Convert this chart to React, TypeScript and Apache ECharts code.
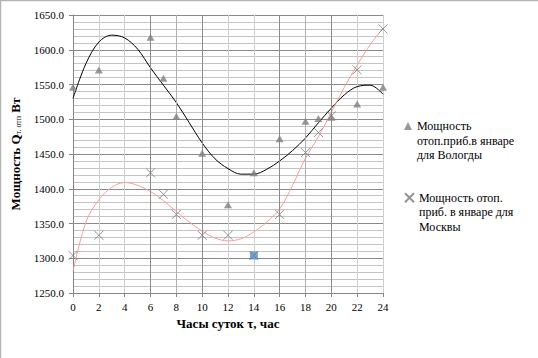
import React, { useEffect, useRef } from "react";
import * as echarts from "echarts";

// Hours of day
const vologdaX = [0, 2, 6, 7, 8, 10, 12, 14, 16, 18, 19, 20, 22, 24];
const vologdaY = [1546, 1571, 1618, 1559, 1504, 1451, 1377, 1423, 1472, 1497, 1501, 1503, 1522, 1546];

const moscowX = [0, 2, 6, 7, 8, 10, 12, 14, 16, 18, 19, 20, 22, 24];
const moscowY = [1304, 1333, 1423, 1392, 1363, 1333, 1333, 1304, 1363, 1452, 1481, 1505, 1571, 1630];

// Trendlines (hour -> value)
const trendX = [0, 1, 2, 3, 4, 5, 6, 7, 8, 9, 10, 11, 12, 13, 14, 15, 16, 17, 18, 19, 20, 21, 22, 23, 24];
const vologdaTrend = [1530, 1580, 1611, 1621, 1617, 1601, 1574, 1549, 1524, 1495, 1466, 1443, 1429, 1421, 1421, 1428, 1440, 1455, 1473, 1495, 1516, 1535, 1547, 1549, 1536];
const moscowTrend = [1281, 1352, 1384, 1402, 1409, 1405, 1396, 1383, 1367, 1352, 1339, 1329, 1325, 1328, 1338, 1352, 1371, 1405, 1444, 1475, 1510, 1546, 1578, 1607, 1631];

const highlightHour = 14;

const xTicks = [0, 2, 4, 6, 8, 10, 12, 14, 16, 18, 20, 22, 24];
const yTicks = [1250, 1300, 1350, 1400, 1450, 1500, 1550, 1600, 1650];

const vologdaName = "Мощность отоп.приб.в январе для Вологды";
const moscowName = "Мощность отоп. приб. в январе для Москвы";
const vologdaLegend = ["Мощность", "отоп.приб.в январе", "для Вологды"];
const moscowLegend = ["Мощность отоп.", "приб. в январе для", "Москвы"];

const SERIF = "Liberation Serif";

export default function App() {
  const ref = useRef<HTMLDivElement>(null);
  useEffect(() => {
    if (!ref.current) return;
    const chart = echarts.init(ref.current, undefined, { renderer: "svg" });
    const pairs = (xs: number[], ys: number[]) => xs.map((x, i) => [x, ys[i]]);
    const hiIdx = moscowX.indexOf(highlightHour);
    const lh = 14.6;
    const legendText = {
      fontFamily: SERIF,
      fontSize: 12,
      color: "#000",
      lineHeight: lh,
    };
    // two empty leading lines so that the first text line sits level with the icon
    const legendLabel = (lines: string[]) => "\n\n" + lines.join("\n");
    const option: any = {
      animation: false,
      backgroundColor: "#ffffff",
      textStyle: { fontFamily: SERIF },
      grid: { left: 73, right: 155, top: 15, bottom: 65, containLabel: false },
      xAxis: {
        type: "value",
        min: xTicks[0],
        max: xTicks[xTicks.length - 1],
        interval: 2,
        name: "Часы суток τ, час",
        nameLocation: "middle",
        nameGap: 24,
        nameTextStyle: { fontFamily: SERIF, fontSize: 13, fontWeight: "bold", color: "#000" },
        axisLine: { show: true, lineStyle: { color: "#868686", width: 1 } },
        axisTick: { show: true, length: 4, lineStyle: { color: "#868686" } },
        axisLabel: { fontFamily: SERIF, fontSize: 11, color: "#000", margin: 8 },
        splitLine: { show: true, lineStyle: { color: "#cfcfcf", width: 1 } },
      },
      yAxis: {
        type: "value",
        min: yTicks[0],
        max: yTicks[yTicks.length - 1],
        interval: 50,
        name: "{m|Мощность Q}{s|т. отп}{m| Вт}",
        nameLocation: "middle",
        nameGap: 44,
        nameTextStyle: {
          fontFamily: SERIF,
          fontSize: 13,
          fontWeight: "bold",
          color: "#000",
          rich: {
            m: { fontFamily: SERIF, fontSize: 13, fontWeight: "bold", color: "#000" },
            s: { fontFamily: SERIF, fontSize: 8, fontWeight: "normal", color: "#000", verticalAlign: "bottom", padding: [6, 0, 0, 0] },
          },
        },
        axisLine: { show: true, lineStyle: { color: "#868686", width: 1 } },
        axisTick: { show: true, length: 4, lineStyle: { color: "#868686" } },
        axisLabel: {
          fontFamily: SERIF,
          fontSize: 11,
          color: "#000",
          margin: 9,
          formatter: (v: number) => v.toFixed(1),
        },
        splitLine: { show: true, lineStyle: { color: "#8a8a8a", width: 1 } },
        minorTick: { show: false, splitNumber: 5 },
        minorSplitLine: { show: true, lineStyle: { color: "#c4c4c4", width: 1 } },
      },
      legend: [
        {
          data: [vologdaName],
          left: 404,
          top: 126 - 2.5 * lh,
          padding: 0,
          itemWidth: 8,
          itemHeight: 8,
          itemGap: 0,
          formatter: () => legendLabel(vologdaLegend),
          textStyle: legendText,
          selectedMode: false,
        },
        {
          data: [moscowName],
          left: 404,
          top: 197.7 - 2.5 * lh,
          padding: 0,
          itemWidth: 9,
          itemHeight: 9,
          itemGap: 0,
          formatter: () => legendLabel(moscowLegend),
          textStyle: legendText,
          selectedMode: false,
        },
      ],
      graphic: [
        { type: "line", shape: { x1: 0.5, y1: 0, x2: 0.5, y2: 358 }, style: { stroke: "#b4b4b4", lineWidth: 1.5 }, silent: true },
        { type: "line", shape: { x1: 0, y1: 0.5, x2: 538, y2: 0.5 }, style: { stroke: "#b4b4b4", lineWidth: 1.5 }, silent: true },
      ],
      series: [
        {
          name: "grid-accent",
          type: "line",
          data: [],
          silent: true,
          markLine: {
            silent: true,
            symbol: "none",
            label: { show: false },
            lineStyle: { type: "solid", width: 1 },
            data: [
              { xAxis: 6, lineStyle: { color: "#8c8c8c" } },
              { xAxis: 10, lineStyle: { color: "#8c8c8c" } },
              { xAxis: 16, lineStyle: { color: "#8c8c8c" } },
              { xAxis: 20, lineStyle: { color: "#8c8c8c" } },
              { xAxis: 8, lineStyle: { color: "#b0b0b0" } },
              { xAxis: 18, lineStyle: { color: "#b0b0b0" } },
            ],
          },
        },
        {
          name: "Полиномиальная (Вологда)",
          type: "line",
          data: pairs(trendX, vologdaTrend),
          smooth: 0.35,
          showSymbol: false,
          symbol: "none",
          silent: true,
          lineStyle: { color: "#000000", width: 1 },
          z: 3,
        },
        {
          name: "Полиномиальная (Москва)",
          type: "line",
          data: pairs(trendX, moscowTrend),
          smooth: 0.35,
          showSymbol: false,
          symbol: "none",
          silent: true,
          lineStyle: { color: "#ff9a9a", width: 1 },
          z: 3,
        },
        {
          name: "highlight",
          type: "scatter",
          data: [[moscowX[hiIdx], moscowY[hiIdx]]],
          symbol: "rect",
          symbolSize: 8,
          itemStyle: { color: "#4a8fd6" },
          z: 4,
        },
        {
          name: vologdaName,
          type: "scatter",
          data: pairs(vologdaX, vologdaY),
          symbol: "triangle",
          symbolSize: [8, 7],
          itemStyle: { color: "#7f7f7f" },
          z: 5,
        },
        {
          name: moscowName,
          type: "scatter",
          data: pairs(moscowX, moscowY),
          symbol: "path://M0,0L10,10M10,0L0,10",
          symbolSize: 9,
          itemStyle: { color: "rgba(0,0,0,0)", borderColor: "#7a7a7a", borderWidth: 1 },
          z: 6,
        },
      ],
    };
    chart.setOption(option);
    return () => chart.dispose();
  }, []);
  return (
    <div
      ref={ref}
      style={{ position: "fixed", left: 0, top: 0, width: 538, height: 358, background: "#fff" }}
    />
  );
}
